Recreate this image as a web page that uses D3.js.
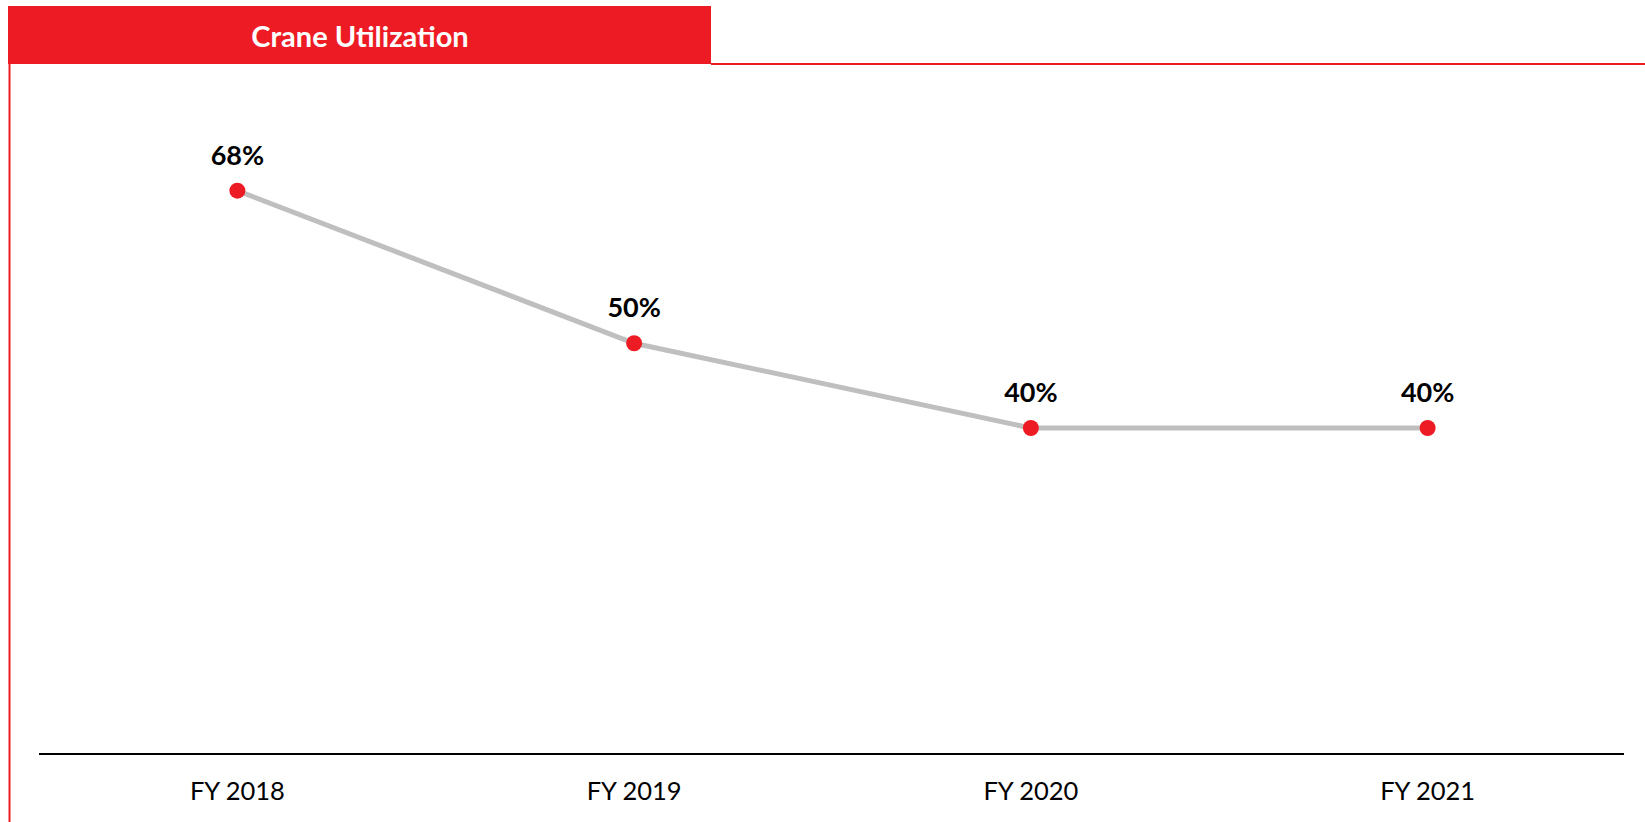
<!DOCTYPE html>
<html><head><meta charset="utf-8">
<script src="https://cdn.jsdelivr.net/npm/d3@7"></script>
<style>html,body{margin:0;padding:0;background:#fff;}svg{display:block;}</style>
</head><body>
<svg id="chart" width="1645" height="822"></svg>
<script>
const title = "Crane Utilization";
const categories = ["FY 2018", "FY 2019", "FY 2020", "FY 2021"];
const values = [0.68, 0.50, 0.40, 0.40];

const W = 1645, H = 822;
const red = "#ED1C24";
const svg = d3.select("#chart");

// header
svg.append("rect").attr("x", 8).attr("y", 6).attr("width", 703).attr("height", 58).attr("fill", red);
svg.append("text").attr("x", 360).attr("y", 47).attr("text-anchor", "middle")
  .attr("font-family", "Lato, 'Open Sans', sans-serif").attr("font-weight", "bold")
  .attr("font-size", 29).attr("fill", "#fff").text(title);
svg.append("line").attr("x1", 711).attr("x2", W).attr("y1", 64).attr("y2", 64)
  .attr("stroke", red).attr("stroke-width", 2);
svg.append("line").attr("x1", 9.5).attr("x2", 9.5).attr("y1", 63).attr("y2", H)
  .attr("stroke", red).attr("stroke-width", 2);

const x = d3.scaleBand().domain(categories).range([39, 1626]);
const y = d3.scaleLinear().domain([0, 0.8]).range([767, 89]);
const cx = d => x(d) + x.bandwidth() / 2;

// x axis
const axisY = 754;
const gx = svg.append("g").attr("transform", `translate(0,${axisY})`)
  .call(d3.axisBottom(x).tickSize(0).tickPadding(28));
gx.select(".domain").attr("stroke", "#000").attr("stroke-width", 2).attr("d", "M39,0H1624");
gx.selectAll("text").attr("font-family", "Lato, 'Open Sans', sans-serif")
  .attr("font-size", 25.5).attr("fill", "#000");

const data = categories.map((c, i) => ({c, v: values[i]}));

svg.append("path").datum(data)
  .attr("fill", "none").attr("stroke", "#BFBFBF").attr("stroke-width", 5)
  .attr("d", d3.line().x(d => cx(d.c)).y(d => y(d.v)));

svg.selectAll("circle.pt").data(data).enter().append("circle")
  .attr("class", "pt").attr("cx", d => cx(d.c)).attr("cy", d => y(d.v))
  .attr("r", 8).attr("fill", red);

svg.selectAll("text.lbl").data(data).enter().append("text")
  .attr("class", "lbl").attr("x", d => cx(d.c)).attr("y", d => y(d.v) - 26)
  .attr("text-anchor", "middle").attr("font-family", "Lato, 'Open Sans', sans-serif")
  .attr("font-weight", "bold").attr("font-size", 27).attr("fill", "#000")
  .text(d => d3.format(".0%")(d.v));
</script>
</body></html>
